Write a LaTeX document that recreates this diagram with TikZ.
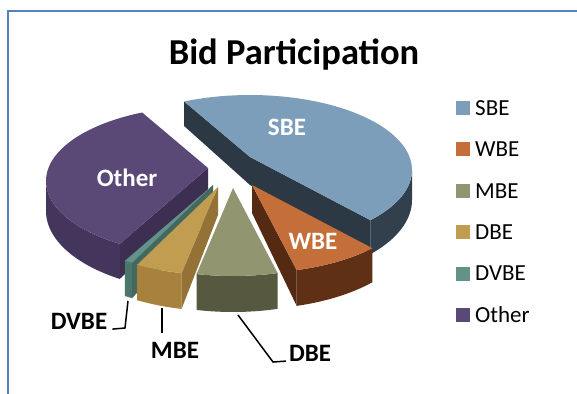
\documentclass[tikz,border=0pt]{standalone}
\usepackage{fontspec}
\setmainfont{Carlito}

\definecolor{sbeTop}{RGB}{125,158,186}
\definecolor{sbeSide}{RGB}{50,64,77}
\definecolor{wbeTop}{RGB}{196,110,58}
\definecolor{wbeSide}{RGB}{96,48,22}
\definecolor{mbeTop}{RGB}{146,150,112}
\definecolor{mbeSide}{RGB}{86,88,64}
\definecolor{dbeTop}{RGB}{193,157,82}
\definecolor{dbeSide}{RGB}{168,130,60}
\definecolor{dvbeTop}{RGB}{98,146,136}
\definecolor{dvbeSide}{RGB}{76,118,108}
\definecolor{otherTop}{RGB}{90,72,118}
\definecolor{otherSide}{RGB}{68,53,92}
\definecolor{frameBlue}{RGB}{84,130,186}

\begin{document}
\begin{tikzpicture}[x=1pt,y=-1pt]

    \tikzset{
      lbl/.style={
        font=\fontsize{25}{29}\selectfont\bfseries,
        inner sep=2pt,
      },
      inlbl/.style={lbl, text=white},
      leader/.style={line width=1.5pt},
      legtext/.style={
        font=\fontsize{23}{27}\selectfont,
        anchor=west,
        inner sep=0pt,
      },
    }
    \useasboundingbox (0,0) rectangle (577,393);
    \clip (0,0) rectangle (577,393);
    \fill[white] (0,0) rectangle (577,393);
    \draw[frameBlue, line width=2pt] (7.5,400) -- (7.5,11.5) -- (590,11.5);

    \node[font=\fontsize{36.5}{42}\selectfont\bfseries] (title) at (294,55) {Bid Participation};

    % slices: centre, start/end angle, front rim from/to, colours
    \foreach \cx/\cy/\ta/\tb/\ra/\rb/\tc/\sc in {
        250/170/-42/114/-42/0/sbeTop/sbeSide,
        208/181/114/237/180/237/otherTop/otherSide,
        252/198/286/318/286/318/wbeTop/wbeSide,
        213/198/237/240/237/240/dvbeTop/dvbeSide,
        218/200/240/257/240/257/dbeTop/dbeSide,
        233/201/257/286/257/286/mbeTop/mbeSide}{
      \fill[fill=\sc] plot[domain=\ra:\rb,samples=40] ({\cx+162*cos(\x)},{\cy-75*sin(\x)})
        -- plot[domain=\rb:\ra,samples=40] ({\cx+162*cos(\x)},{\cy-81*sin(\x)+30}) -- cycle;
      \pgfmathtruncatemacro{\fa}{cos(\ta)>0}
      \pgfmathtruncatemacro{\fb}{cos(\tb)<0}
      \ifnum\fa=1
        \fill[fill=\sc!88!black] (\cx,\cy-13) -- ({\cx+162*cos(\ta)},{\cy-75*sin(\ta)})
          -- ({\cx+162*cos(\ta)},{\cy-81*sin(\ta)+30}) -- (\cx,\cy+15) -- cycle;
      \fi
      \ifnum\fb=1
        \fill[fill=\sc!88!black] (\cx,\cy-13) -- ({\cx+162*cos(\tb)},{\cy-75*sin(\tb)})
          -- ({\cx+162*cos(\tb)},{\cy-81*sin(\tb)+30}) -- (\cx,\cy+15) -- cycle;
      \fi
      \fill[fill=\tc] (\cx,\cy-13) -- plot[domain=\ta:\tb,samples=60] ({\cx+162*cos(\x)},{\cy-75*sin(\x)}) -- cycle;
    }

    \node[inlbl] (sbeLbl) at (287,127) {SBE};
    \node[inlbl] (otherLbl) at (127,178) {Other};
    \node[inlbl] (wbeLbl) at (313,241) {WBE};

    \node[lbl] (dvbeLbl) at (79,321) {DVBE};
    \node[lbl] (mbeLbl) at (175,350) {MBE};
    \node[lbl] (dbeLbl) at (310,353) {DBE};

    \coordinate (dvbeEnd) at (128,301);
    \coordinate (dvbeKnee) at (125,328);
    \coordinate (mbeEnd) at (162,308);
    \coordinate (mbeFoot) at (162,333);
    \coordinate (dbeEnd) at (238,315);
    \coordinate (dbeKnee) at (273,362);
    \draw[leader] (dvbeEnd) -- (dvbeKnee) -- ([xshift=3pt]dvbeLbl.base east);
    \draw[leader] (mbeEnd) -- (mbeFoot);
    \draw[leader] (dbeEnd) -- (dbeKnee) -- ([xshift=-1pt]dbeLbl.base west);

    \foreach \nm/\lc [count=\i] in {SBE/sbeTop,WBE/wbeTop,MBE/mbeTop,DBE/dbeTop,DVBE/dvbeTop,Other/otherTop}{
      \fill[fill=\lc] (456,{101+41.4*(\i-1)}) rectangle +(14,14);
      \node[legtext] (leg\i) at (475,{108+41.4*(\i-1)}) {\nm};
    }

\end{tikzpicture}
\end{document}
